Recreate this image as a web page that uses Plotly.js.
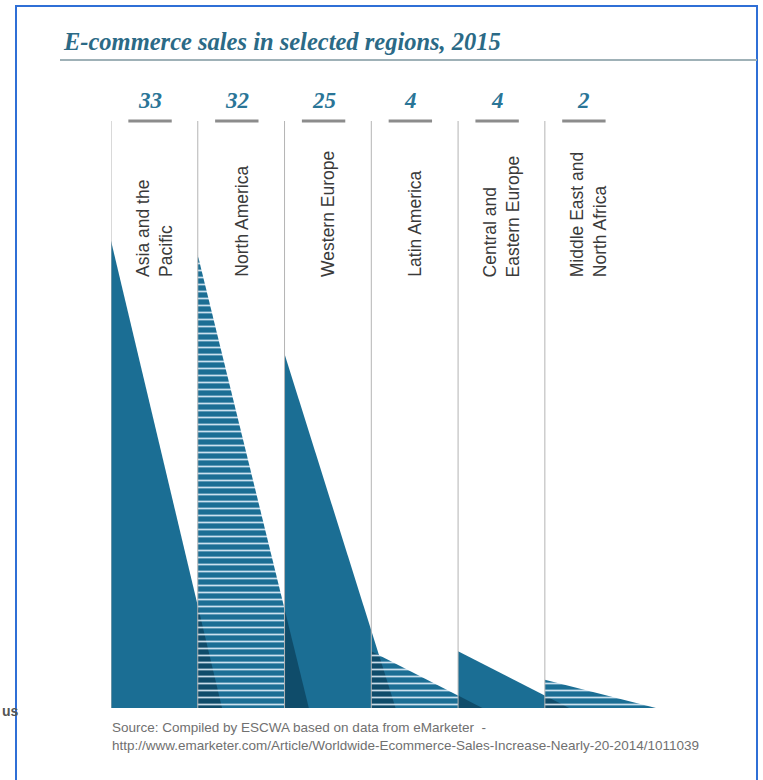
<!DOCTYPE html>
<html>
<head>
<meta charset="utf-8">
<script src="https://cdn.plot.ly/plotly-3.0.1.min.js"></script>
<style>
  html, body { margin: 0; padding: 0; background: #ffffff; }
  #chart { width: 763px; height: 780px; }
</style>
</head>
<body>
<div id="chart"></div>
<script>
// E-commerce sales by region, 2015
const regions = [
  'Asia and the<br>Pacific',
  'North America',
  'Western Europe',
  'Latin America',
  'Central and<br>Eastern Europe',
  'Middle East and<br>North Africa'
];
const sales = [33, 32, 25, 4, 4, 2];
const valueLabels = ['33', '32', '25', '4', '4', '2'];

// styling
const BLUE = '#1b6e94';
const DARK = '#0f4c6a';
const HATCH_FG = '#eaf6ff';
const TRI_W = 1.28;          // triangle base, in column widths
const W = 763, H = 780;
const M = { l: 111, r: 88, t: 85, b: 72 };
const plotH = H - M.t - M.b;
const plotW = W - M.l - M.r;
const yMax = 44;
const xMax = 6.5;

// pixel -> paper helpers for decoration placed outside the plot area
const px = x => (x - M.l) / plotW;
const py = y => (H - M.b - y) / plotH;

function hatch(bg) {
  return { shape: '-', bgcolor: bg, fgcolor: HATCH_FG, fgopacity: 0.85, size: 7, solidity: 0.25 };
}

const traces = [];

// main triangles: left edge at the column, height = value
sales.forEach((v, i) => {
  const t = {
    type: 'scatter', mode: 'lines',
    x: [i, i, i + TRI_W, i],
    y: [0, v, 0, 0],
    fill: 'toself',
    fillcolor: BLUE,
    line: { width: 0, color: BLUE },
    hoverinfo: 'skip',
    showlegend: false
  };
  if (i % 2 === 1) t.fillpattern = hatch(BLUE);
  traces.push(t);
});

// darker overlap where a triangle's tail runs under the next one
for (let i = 0; i < sales.length - 1; i++) {
  const a = i + 1;
  const L1 = TRI_W - 1;
  if (L1 <= 0) continue;
  const h1 = sales[i] * (1 - 1 / TRI_W);
  const v2 = sales[i + 1];
  const xs = [a, a];
  const ys = [0, Math.min(h1, v2)];
  if (h1 > v2) {
    const t = (h1 - v2) / (h1 / L1 - v2 / TRI_W);
    xs.push(a + t);
    ys.push(v2 * (1 - t / TRI_W));
  }
  xs.push(a + L1, a);
  ys.push(0, 0);
  const tr = {
    type: 'scatter', mode: 'lines',
    x: xs, y: ys,
    fill: 'toself',
    fillcolor: DARK,
    line: { width: 0, color: DARK },
    hoverinfo: 'skip',
    showlegend: false
  };
  if ((i + 1) % 2 === 1) tr.fillpattern = hatch(DARK);
  traces.push(tr);
}

const shapes = [];
const annotations = [];

// frame and title rule
shapes.push({
  type: 'rect', xref: 'paper', yref: 'paper',
  x0: px(16), x1: px(757), y0: py(800), y1: py(6),
  line: { color: '#2f6fd6', width: 2 }, fillcolor: 'rgba(0,0,0,0)'
});
shapes.push({
  type: 'line', xref: 'paper', yref: 'paper',
  x0: px(60), x1: px(757), y0: py(60), y1: py(60),
  line: { color: '#9fb1b7', width: 2 }
});

regions.forEach((name, i) => {
  // column separator
  shapes.push({
    type: 'line', xref: 'x', yref: 'paper',
    x0: i, x1: i, y0: 0, y1: py(121),
    line: { color: '#b4b4b4', width: 1 }
  });
  // short rule under the value
  shapes.push({
    type: 'line', xref: 'x', yref: 'paper',
    x0: i + 0.2, x1: i + 0.7, y0: py(121), y1: py(121),
    line: { color: '#8c8c8c', width: 3 }
  });
  // value
  annotations.push({
    xref: 'x', yref: 'paper', x: i + 0.45, y: py(100),
    text: valueLabels[i], showarrow: false,
    xanchor: 'center', yanchor: 'middle',
    font: { family: 'Liberation Serif, DejaVu Serif, serif', size: 23, color: '#2a7597', weight: 'bold', style: 'italic' }
  });
  // region name, vertical
  annotations.push({
    xref: 'x', yref: 'paper', x: i + 0.5, y: py(279),
    text: name, showarrow: false, textangle: -90,
    xanchor: 'center', yanchor: 'bottom', align: 'left',
    font: { family: 'Liberation Sans, Arial, sans-serif', size: 17.5, color: '#3a3a3a' }
  });
});

// title
annotations.push({
  xref: 'paper', yref: 'paper', x: px(61), y: py(42),
  text: 'E-commerce sales in selected regions, 2015', showarrow: false,
  xanchor: 'left', yanchor: 'middle',
  font: { family: 'Liberation Serif, DejaVu Serif, serif', size: 24.5, color: '#2b6a86', weight: 'bold', style: 'italic' }
});

// source note
annotations.push({
  xref: 'paper', yref: 'paper', x: px(110), y: py(718),
  text: 'Source: Compiled by ESCWA based on data from eMarketer  -<br>http://www.emarketer.com/Article/Worldwide-Ecommerce-Sales-Increase-Nearly-20-2014/1011039',
  showarrow: false, xanchor: 'left', yanchor: 'top', align: 'left',
  font: { family: 'Liberation Sans, Arial, sans-serif', size: 13.5, color: '#707070' }
});

// stray text at the left edge
annotations.push({
  xref: 'paper', yref: 'paper', x: px(0), y: py(711),
  text: 'us', showarrow: false, xanchor: 'left', yanchor: 'middle',
  font: { family: 'Liberation Sans, Arial, sans-serif', size: 14, color: '#555555', weight: 'bold' }
});

const layout = {
  width: W, height: H,
  margin: M,
  paper_bgcolor: '#ffffff',
  plot_bgcolor: 'rgba(0,0,0,0)',
  showlegend: false,
  xaxis: { range: [0, xMax], visible: false, fixedrange: true },
  yaxis: { range: [0, yMax], visible: false, fixedrange: true },
  shapes: shapes,
  annotations: annotations
};

Plotly.newPlot('chart', traces, layout, { displayModeBar: false, staticPlot: true });
</script>
</body>
</html>
